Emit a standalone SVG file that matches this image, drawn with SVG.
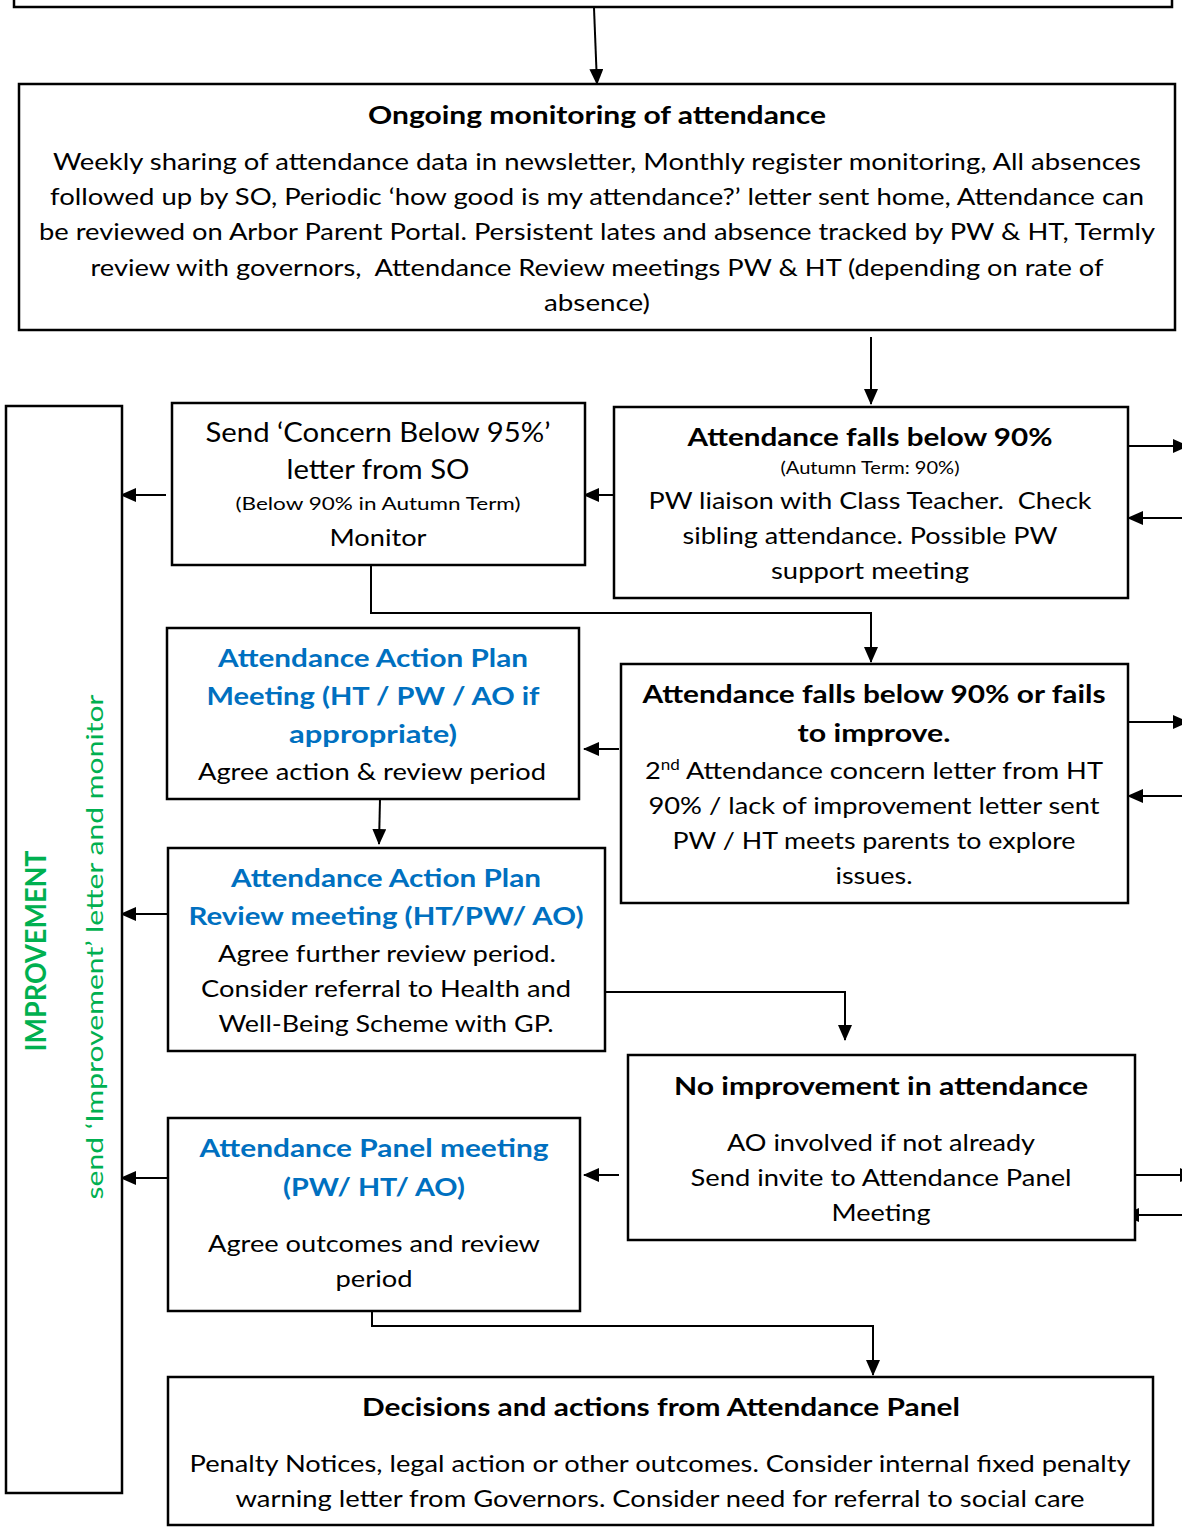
<svg xmlns="http://www.w3.org/2000/svg" width="1182" height="1530" viewBox="0 0 1182 1530">
<style>
.box{fill:#fff;stroke:#000;stroke-width:2.5}
.c{fill:none;stroke:#000;stroke-width:2}
text{font-family:Lato,"Open Sans","Liberation Sans",sans-serif;text-anchor:middle;fill:#000}
.t{font-size:24px}
.b{font-size:25px;font-weight:bold}
.bl{font-size:25px;font-weight:bold;fill:#0070C0}
.s{font-size:17px}
.l{font-size:26px}
.g{fill:#00B050}
</style>
<defs>
<marker id="ah" markerUnits="userSpaceOnUse" markerWidth="16" markerHeight="14" refX="15" refY="7" orient="auto">
<path d="M0,0 L16,7 L0,14 Z" fill="#000"/>
</marker>
</defs>
<rect width="1182" height="1530" fill="#fff"/>

<g id="connectors">
<line class="c" x1="594" y1="8" x2="597" y2="84" marker-end="url(#ah)"/>
<line class="c" x1="871" y1="337" x2="871" y2="404" marker-end="url(#ah)"/>
<line class="c" x1="1128" y1="446" x2="1188" y2="446" marker-end="url(#ah)"/>
<line class="c" x1="1190" y1="518" x2="1128" y2="518" marker-end="url(#ah)"/>
<line class="c" x1="614" y1="495" x2="584" y2="495" marker-end="url(#ah)"/>
<line class="c" x1="166" y1="495" x2="121" y2="495" marker-end="url(#ah)"/>
<polyline class="c" points="371,565 371,613 871,613 871,662" marker-end="url(#ah)"/>
<line class="c" x1="1128" y1="722" x2="1188" y2="722" marker-end="url(#ah)"/>
<line class="c" x1="1190" y1="796" x2="1128" y2="796" marker-end="url(#ah)"/>
<line class="c" x1="619" y1="749" x2="584" y2="749" marker-end="url(#ah)"/>
<line class="c" x1="380" y1="799" x2="379" y2="844" marker-end="url(#ah)"/>
<line class="c" x1="168" y1="914" x2="121" y2="914" marker-end="url(#ah)"/>
<polyline class="c" points="605,992 845,992 845,1040" marker-end="url(#ah)"/>
<line class="c" x1="1135" y1="1175" x2="1195" y2="1175" marker-end="url(#ah)"/>
<line class="c" x1="1190" y1="1215" x2="1124" y2="1215" marker-end="url(#ah)"/>
<line class="c" x1="619" y1="1175" x2="584" y2="1175" marker-end="url(#ah)"/>
<line class="c" x1="168" y1="1178" x2="121" y2="1178" marker-end="url(#ah)"/>
<polyline class="c" points="372,1311 372,1326 873,1326 873,1375" marker-end="url(#ah)"/>
</g>

<g id="top">
<rect class="box" x="14" y="-10" width="1158" height="17"/>
</g>

<g id="ongoing">
<rect class="box" x="19" y="84" width="1156" height="246"/>
<text class="b" x="597" y="124" textLength="458" lengthAdjust="spacingAndGlyphs">Ongoing monitoring of attendance</text>
<text class="t" x="597" y="170" textLength="1088" lengthAdjust="spacingAndGlyphs">Weekly sharing of attendance data in newsletter, Monthly register monitoring, All absences</text>
<text class="t" x="597" y="205" textLength="1094" lengthAdjust="spacingAndGlyphs">followed up by SO, Periodic ‘how good is my attendance?’ letter sent home, Attendance can</text>
<text class="t" x="597" y="240" textLength="1116" lengthAdjust="spacingAndGlyphs">be reviewed on Arbor Parent Portal. Persistent lates and absence tracked by PW &amp; HT, Termly</text>
<text class="t" x="597" y="276" textLength="1013" lengthAdjust="spacingAndGlyphs" xml:space="preserve">review with governors,  Attendance Review meetings PW &amp; HT (depending on rate of</text>
<text class="t" x="597" y="311" textLength="106" lengthAdjust="spacingAndGlyphs">absence)</text>
</g>

<g id="below90">
<rect class="box" x="614" y="407" width="514" height="191"/>
<text class="b" x="870" y="446" textLength="365" lengthAdjust="spacingAndGlyphs">Attendance falls below 90%</text>
<text class="s" x="870" y="474" textLength="179" lengthAdjust="spacingAndGlyphs">(Autumn Term: 90%)</text>
<text class="t" x="870" y="509" textLength="443" lengthAdjust="spacingAndGlyphs" xml:space="preserve">PW liaison with Class Teacher.  Check</text>
<text class="t" x="870" y="544" textLength="375" lengthAdjust="spacingAndGlyphs">sibling attendance. Possible PW</text>
<text class="t" x="870" y="579" textLength="198" lengthAdjust="spacingAndGlyphs">support meeting</text>
</g>

<g id="concern">
<rect class="box" x="172" y="403" width="413" height="162"/>
<text class="l" x="378" y="442" textLength="345" lengthAdjust="spacingAndGlyphs">Send ‘Concern Below 95%’</text>
<text class="l" x="378" y="479" textLength="183" lengthAdjust="spacingAndGlyphs">letter from SO</text>
<text class="s" x="378" y="510" textLength="285" lengthAdjust="spacingAndGlyphs">(Below 90% in Autumn Term)</text>
<text class="t" x="378" y="546" textLength="97" lengthAdjust="spacingAndGlyphs">Monitor</text>
</g>

<g id="improvement">
<rect class="box" x="6" y="406" width="116" height="1087"/>
<text class="b g" transform="translate(46,951) rotate(-90)" style="font-size:28px" textLength="201" lengthAdjust="spacingAndGlyphs">IMPROVEMENT</text>
<text class="t g" transform="translate(103,947) rotate(-90)" textLength="505" lengthAdjust="spacingAndGlyphs">send ‘Improvement’ letter and monitor</text>
</g>

<g id="fails">
<rect class="box" x="621" y="664" width="507" height="239"/>
<text class="b" x="874" y="703" textLength="463" lengthAdjust="spacingAndGlyphs">Attendance falls below 90% or fails</text>
<text class="b" x="874" y="742" textLength="153" lengthAdjust="spacingAndGlyphs">to improve.</text>
<text class="t" x="874" y="779" textLength="458" lengthAdjust="spacingAndGlyphs">2<tspan style="font-size:15px" dy="-9">nd</tspan><tspan dy="9"> Attendance concern letter from HT</tspan></text>
<text class="t" x="874" y="814" textLength="451" lengthAdjust="spacingAndGlyphs">90% / lack of improvement letter sent</text>
<text class="t" x="874" y="849" textLength="403" lengthAdjust="spacingAndGlyphs">PW / HT meets parents to explore</text>
<text class="t" x="874" y="884" textLength="77" lengthAdjust="spacingAndGlyphs">issues.</text>
</g>

<g id="actionplan">
<rect class="box" x="167" y="628" width="412" height="171"/>
<text class="bl" x="373" y="667" textLength="310" lengthAdjust="spacingAndGlyphs">Attendance Action Plan</text>
<text class="bl" x="373" y="705" textLength="333" lengthAdjust="spacingAndGlyphs">Meeting (HT / PW / AO if</text>
<text class="bl" x="373" y="743" textLength="168" lengthAdjust="spacingAndGlyphs">appropriate)</text>
<text class="t" x="372" y="780" textLength="348" lengthAdjust="spacingAndGlyphs">Agree action &amp; review period</text>
</g>

<g id="review">
<rect class="box" x="168" y="848" width="437" height="203"/>
<text class="bl" x="386" y="887" textLength="310" lengthAdjust="spacingAndGlyphs">Attendance Action Plan</text>
<text class="bl" x="386" y="925" textLength="395" lengthAdjust="spacingAndGlyphs">Review meeting (HT/PW/ AO)</text>
<text class="t" x="387" y="962" textLength="338" lengthAdjust="spacingAndGlyphs">Agree further review period.</text>
<text class="t" x="386" y="997" textLength="370" lengthAdjust="spacingAndGlyphs">Consider referral to Health and</text>
<text class="t" x="386" y="1032" textLength="335" lengthAdjust="spacingAndGlyphs">Well-Being Scheme with GP.</text>
</g>

<g id="noimprovement">
<rect class="box" x="628" y="1055" width="507" height="185"/>
<text class="b" x="881" y="1095" textLength="414" lengthAdjust="spacingAndGlyphs">No improvement in attendance</text>
<text class="t" x="881" y="1151" textLength="308" lengthAdjust="spacingAndGlyphs">AO involved if not already</text>
<text class="t" x="881" y="1186" textLength="381" lengthAdjust="spacingAndGlyphs">Send invite to Attendance Panel</text>
<text class="t" x="881" y="1221" textLength="99" lengthAdjust="spacingAndGlyphs">Meeting</text>
</g>

<g id="panel">
<rect class="box" x="168" y="1118" width="412" height="193"/>
<text class="bl" x="374" y="1157" textLength="349" lengthAdjust="spacingAndGlyphs">Attendance Panel meeting</text>
<text class="bl" x="374" y="1196" textLength="182" lengthAdjust="spacingAndGlyphs">(PW/ HT/ AO)</text>
<text class="t" x="374" y="1252" textLength="332" lengthAdjust="spacingAndGlyphs">Agree outcomes and review</text>
<text class="t" x="374" y="1287" textLength="77" lengthAdjust="spacingAndGlyphs">period</text>
</g>

<g id="decisions">
<rect class="box" x="168" y="1377" width="985" height="148"/>
<text class="b" x="661" y="1416" textLength="598" lengthAdjust="spacingAndGlyphs">Decisions and actions from Attendance Panel</text>
<text class="t" x="660" y="1472" textLength="941" lengthAdjust="spacingAndGlyphs">Penalty Notices, legal action or other outcomes. Consider internal fixed penalty</text>
<text class="t" x="660" y="1507" textLength="849" lengthAdjust="spacingAndGlyphs">warning letter from Governors. Consider need for referral to social care</text>
</g>
</svg>
